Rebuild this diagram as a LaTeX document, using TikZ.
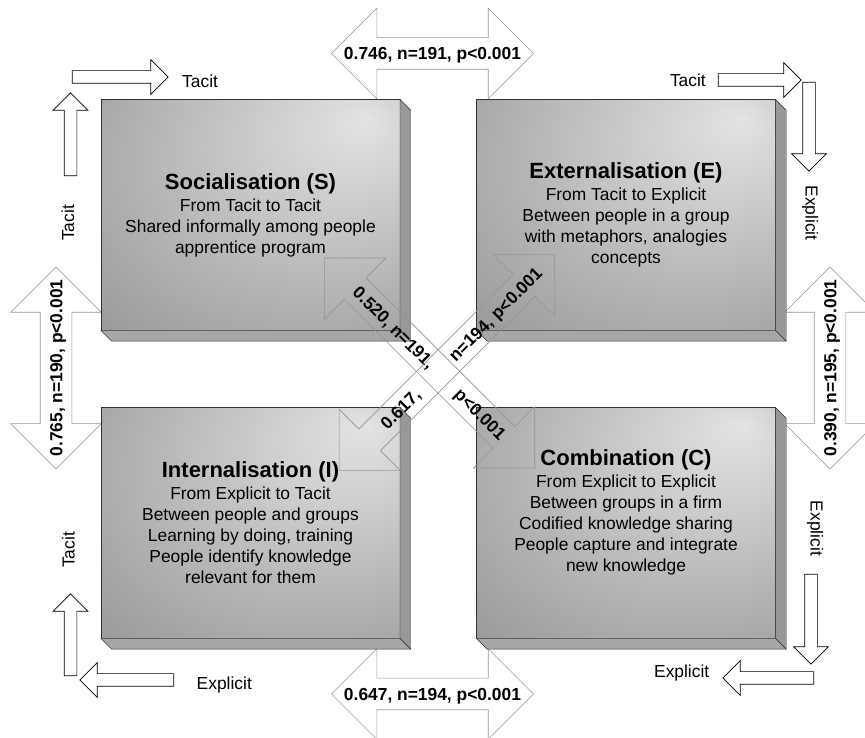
\documentclass[tikz,border=0pt]{standalone}
\usepackage{fontspec}
\setmainfont{Liberation Sans}
\usetikzlibrary{shapes.arrows, positioning, calc}

\definecolor{arrline}{RGB}{150, 150, 150}
\definecolor{faceline}{RGB}{50, 50, 50}
\definecolor{sideright}{RGB}{152, 152, 152}
\definecolor{sidebottom}{RGB}{166, 166, 166}

\pgfdeclareradialshading{facelight}{\pgfpoint{19.5bp}{21bp}}{%
  color(0bp)=(black!11); color(64bp)=(black!51); color(70bp)=(black!51)}

\newcommand{\modetitle}[1]{{\fontsize{22}{24}\selectfont\bfseries #1}}

\tikzset{
  mode/.style={draw=faceline, line width=0.8pt, shade, shading=facelight,
    minimum width=299pt, minimum height=231pt, inner sep=0pt, outer sep=0pt,
    align=center, font=\fontsize{17.4}{21}\selectfont},
  link/.style={double arrow, draw=arrline, fill=white, line width=0.6pt,
    double arrow head extend=29.5pt, inner xsep=0pt, inner ysep=7pt,
    text height=14.75pt, text depth=2.25pt, minimum height=202pt,
    font=\fontsize{17.4}{21}\selectfont\bfseries},
  cross/.style={link, fill=none, double arrow head extend=28pt, inner ysep=6.5pt},
  flow/.style={single arrow, draw=black, fill=white, line width=0.7pt,
    single arrow head extend=11pt, inner xsep=0pt, inner ysep=6pt,
    text height=0pt, text depth=0pt},
  kind/.style={font=\fontsize{17.4}{21}\selectfont},
}

\begin{document}
\begin{tikzpicture}[x=1pt, y=1pt]
  \useasboundingbox (0,0) rectangle (865,738);

  % links between neighbouring modes
  \node[link] (se) at (432.5,684.5) {\makebox[0pt]{0.746, n=191, p<0.001}};
  \node[link] (ic) at (432.5,44) {\makebox[0pt]{0.647, n=194, p<0.001}};
  \node[link, rotate=90] (si) at (56,370) {\makebox[0pt]{0.765, n=190, p<0.001}};
  \node[link, rotate=90] (ec) at (830,370) {\makebox[0pt]{0.390, n=195, p<0.001}};

  % the four modes
  \node[mode] (S) at (250.5,523) {\modetitle{Socialisation (S)}\\[1pt]
    From Tacit to Tacit\\ Shared informally among people\\ apprentice program};
  \node[mode] (E) at (626,523) {\modetitle{Externalisation (E)}\\[1pt]
    From Tacit to Explicit\\ Between people in a group\\
    with metaphors, analogies\\ concepts};
  \node[mode] (I) at (250.5,215) {\modetitle{Internalisation (I)}\\[1pt]
    From Explicit to Tacit\\ Between people and groups\\
    Learning by doing, training\\ People identify knowledge\\ relevant for them};
  \node[mode] (C) at (626,215) {\modetitle{Combination (C)}\\[1pt]
    From Explicit to Explicit\\ Between groups in a firm\\
    Codified knowledge sharing\\ People capture and integrate\\
    new knowledge\\[4pt]\mbox{}};

  % depth of the boxes
  \foreach \m in {S,E,I,C} {
    \filldraw[draw=faceline, fill=sideright] (\m.north east) -- ++(10.7,-10.7)
      -- ($(\m.south east)+(10.7,-10.7)$) -- (\m.south east) -- cycle;
    \filldraw[draw=faceline, fill=sidebottom] (\m.south west) -- ++(10.7,-10.7)
      -- ($(\m.south east)+(10.7,-10.7)$) -- (\m.south east) -- cycle;
  }

  % diagonal links
  \node[cross, minimum height=297pt, rotate=-45] (sc) at (429.7,375)
    {\makebox[0pt]{0.520, n=191,\hspace{36pt}p<0.001}};
  \node[cross, minimum height=305pt, rotate=45] (ie) at (446.9,375.4)
    {\makebox[0pt]{\hspace*{40pt}0.617,\hspace{48pt}n=194, p<0.001}};

  % tacit / explicit flows
  \node[flow, minimum height=96pt] (t1) at (117,661) {};
  \node[flow, minimum height=83pt, rotate=90] (t2) at (70.5,600.5) {};
  \node[flow, minimum height=83pt] (t3) at (756.5,658) {};
  \node[flow, minimum height=89pt, rotate=-90] (t4) at (809,614.5) {};
  \node[flow, minimum height=82pt, rotate=90] (t5) at (70.5,100) {};
  \node[flow, minimum height=94pt, rotate=180] (t6) at (130,58) {};
  \node[flow, minimum height=90pt, rotate=-90] (t7) at (811,122) {};
  \node[flow, minimum height=91pt, rotate=180] (t8) at (771.5,60) {};

  \node[kind, right=10pt of t1, yshift=-4pt] (l1) {Tacit};
  \node[kind, rotate=90] (l2) at (68,515) {Tacit};
  \node[kind, left=8.5pt of t3] (l3) {Tacit};
  \node[kind, rotate=-90] (l4) at (810,525) {Explicit};
  \node[kind, rotate=90] (l5) at (68.3,188) {Tacit};
  \node[kind] (l6) at (224.3,53) {Explicit};
  \node[kind] (l7) at (681.7,64.7) {Explicit};
  \node[kind, rotate=-90] (l8) at (815,209.7) {Explicit};
\end{tikzpicture}
\end{document}
